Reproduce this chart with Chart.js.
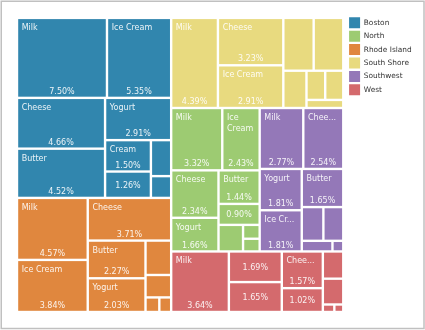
<!DOCTYPE html>
<html>
<head>
<meta charset="utf-8">
<script src="https://cdn.jsdelivr.net/npm/chart.js@4.4.0/dist/chart.umd.min.js"></script>
<style>
  body { margin: 0; background: #fff; }
</style>
</head>
<body>
<canvas id="treemap-canvas" width="425" height="330"></canvas>
<script>
var regions = ["Boston", "North", "Rhode Island", "South Shore", "Southwest", "West"];
var products = ["Milk", "Ice Cream", "Cheese", "Butter", "Yogurt", "Cream", "Sour Cream", "Cottage Cheese", "Kefir"];

// share of total sales in %, one array per region, in the order of products
var boston      = [7.50, 5.35, 4.66, 4.52, 2.91, 1.50, 1.26, 0.76, 0.46];
var north       = [3.32, 2.43, 2.34, 1.44, 1.66, 0.90, 0.68, 0.24, 0.22];
var rhodeIsland = [4.57, 3.84, 3.71, 2.27, 2.03, 0.92, 0.60, 0.21, 0.18];
var southShore  = [4.39, 2.91, 3.23, 1.67, 1.63, 0.90, 0.57, 0.55, 0.31];
var southwest   = [2.77, 1.808, 2.54, 1.65, 1.812, 0.76, 0.70, 0.34, 0.12];
var west        = [3.64, 1.69, 1.57, 1.65, 1.02, 0.58, 0.55, 0.09, 0.07];

var colors = ["#3186ae", "#9dcb72", "#e0873e", "#e8da7f", "#9478b8", "#d46a6d"];

var seriesValues = [boston, north, rhodeIsland, southShore, southwest, west];

// size of the layout space (scale units)
var W = 326, H = 294;

function sum(a) {
	var s = 0;
	for (var i = 0; i < a.length; i++) s += a[i];
	return s;
}

function worst(row, side) {
	var s = sum(row);
	var mx = Math.max.apply(null, row);
	var mn = Math.min.apply(null, row);
	return Math.max(side * side * mx / (s * s), (s * s) / (side * side * mn));
}

// squarified treemap, items sorted largest first
function squarify(items, x, y, w, h) {
	var total = 0;
	items.forEach(function (it) { total += it.value; });
	var areas = items.map(function (it) { return it.value / total * w * h; });
	var i = 0;
	while (i < items.length) {
		var side = Math.min(w, h);
		var row = [areas[i]];
		var j = i + 1;
		while (j < items.length && worst(row.concat([areas[j]]), side) <= worst(row, side)) {
			row.push(areas[j]);
			j++;
		}
		var rs = sum(row), k;
		if (w >= h) {
			var cw = rs / h, cy = y;
			for (k = i; k < j; k++) {
				var ch = areas[k] / cw;
				items[k].rect = { x0: x, y0: cy, x1: x + cw, y1: cy + ch };
				cy += ch;
			}
			x += cw; w -= cw;
		} else {
			var rh = rs / w, cx = x;
			for (k = i; k < j; k++) {
				var cw2 = areas[k] / rh;
				items[k].rect = { x0: cx, y0: y, x1: cx + cw2, y1: y + rh };
				cx += cw2;
			}
			y += rh; h -= rh;
		}
		i = j;
	}
}

var grandTotal = 0;
seriesValues.forEach(function (s) { grandTotal += sum(s); });

var groups = regions.map(function (r, gi) {
	var cells = products.map(function (p, pi) {
		return { name: p, value: seriesValues[gi][pi] };
	});
	cells.sort(function (a, b) { return b.value - a.value; });
	return { index: gi, value: sum(seriesValues[gi]), cells: cells };
});

var order = groups.slice().sort(function (a, b) { return b.value - a.value; });
squarify(order, 0, 0, W, H);
order.forEach(function (g) {
	squarify(g.cells, g.rect.x0, g.rect.y0, g.rect.x1 - g.rect.x0, g.rect.y1 - g.rect.y0);
});

function pct(v) {
	return (v / grandTotal * 100).toFixed(2) + "%";
}

var datasets = groups.map(function (g) {
	return {
		label: regions[g.index],
		backgroundColor: colors[g.index],
		borderColor: colors[g.index],
		borderWidth: 0,
		pointRadius: 0,
		pointHoverRadius: 0,
		pointHitRadius: 8,
		cells: g.cells,
		data: g.cells.map(function (c) {
			return { x: (c.rect.x0 + c.rect.x1) / 2, y: (c.rect.y0 + c.rect.y1) / 2, name: c.name, value: c.value };
		})
	};
});

function fitName(ctx, name, w, h) {
	var avail = w - 9.2;
	if (ctx.measureText(name).width <= avail) return [name];
	var words = name.split(" ");
	if (words.length > 1 && h >= 45 && words.every(function (wd) { return ctx.measureText(wd).width <= w - 8; })) {
		return words;
	}
	for (var n = name.length - 1; n > 0; n--) {
		var s = name.slice(0, n).replace(/\s+$/, "") + "...";
		if (ctx.measureText(s).width <= avail) return [s];
	}
	return [];
}

function drawLabels(ctx, c, left, top, w, h) {
	var val = pct(c.value);
	ctx.font = "8px 'DejaVu Sans'";
	ctx.fillStyle = "rgba(255,255,255,0.9)";
	ctx.textBaseline = "alphabetic";
	// nothing is written in a cell too narrow for its value
	if (ctx.measureText(val).width > w - 9.2 || h < 12) return;
	ctx.textAlign = "center";
	if (h >= 28.7) {
		ctx.fillText(val, left + w / 2, top + h - 2.7);
		ctx.textAlign = "left";
		fitName(ctx, c.name, w, h).forEach(function (ln, k) {
			ctx.fillText(ln, left + 3.5, top + 10.8 + k * 11.3);
		});
	} else {
		ctx.fillText(val, left + w / 2, top + h / 2 + 2.9);
	}
}

var treemapPlugin = {
	id: "treemapCells",
	beforeDatasetsDraw: function (chart) {
		var ctx = chart.ctx, xs = chart.scales.x, ys = chart.scales.y;
		ctx.save();
		chart.data.datasets.forEach(function (ds, di) {
			if (!chart.isDatasetVisible(di)) return;
			ds.cells.forEach(function (c) {
				var left = xs.getPixelForValue(c.rect.x0) + 1.2;
				var right = xs.getPixelForValue(c.rect.x1) - 1.2;
				var top = ys.getPixelForValue(c.rect.y0) + 1.2;
				var bottom = ys.getPixelForValue(c.rect.y1) - 1.2;
				var w = right - left, h = bottom - top;
				if (w <= 0 || h <= 0) return;
				ctx.fillStyle = ds.backgroundColor;
				ctx.fillRect(left, top, w, h);
				drawLabels(ctx, c, left, top, w, h);
			});
		});
		ctx.restore();
	}
};

var framePlugin = {
	id: "frame",
	afterDraw: function (chart) {
		var ctx = chart.ctx;
		ctx.save();
		ctx.strokeStyle = "#c0c0c0";
		ctx.lineWidth = 1.5;
		ctx.strokeRect(1.25, 1.25, 422.75, 327.25);
		ctx.restore();
	}
};

var hidden = { display: false };

var chart1 = new Chart(document.getElementById("treemap-canvas"), {
	type: "scatter",
	data: { datasets: datasets },
	options: {
		responsive: false,
		animation: false,
		layout: { padding: { left: 17, top: 14.9, right: 3.3, bottom: 18 } },
		scales: {
			x: {
				type: "linear", position: "top", min: 0, max: W,
				ticks: hidden, grid: hidden, border: hidden,
				afterFit: function (s) { s.height = 3; }
			},
			y: {
				type: "linear", position: "right", min: 0, max: H, reverse: true,
				ticks: hidden, grid: hidden, border: hidden,
				afterFit: function (s) { s.width = 3.4; }
			}
		},
		plugins: {
			legend: {
				position: "right",
				align: "start",
				labels: {
					boxWidth: 11,
					boxHeight: 11,
					padding: 2.4,
					color: "#333",
					font: { family: "'DejaVu Sans'", size: 7.4 }
				}
			},
			tooltip: {
				callbacks: {
					label: function (item) {
						return item.raw.name + ": " + pct(item.raw.value);
					}
				}
			}
		}
	},
	plugins: [treemapPlugin, framePlugin]
});
</script>
</body>
</html>
